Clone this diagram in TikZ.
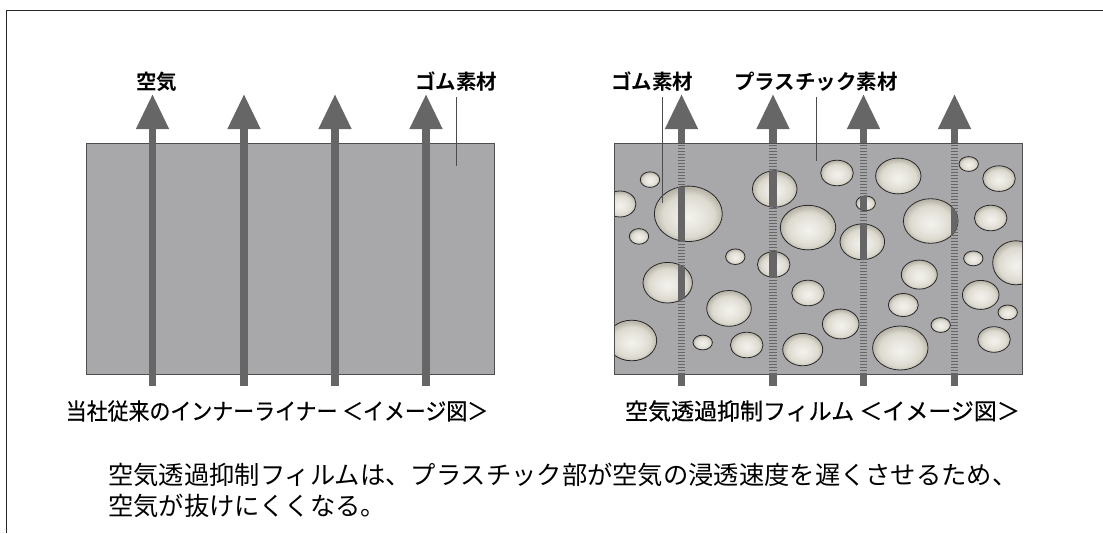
\documentclass[tikz,border=0pt]{standalone}
\usepackage{fontspec}
\setmainfont{Noto Sans CJK JP}[BoldFont={Noto Sans CJK JP Bold}]
\newfontfamily\capfont{Noto Sans CJK JP}[FakeBold=0.5]
\newfontfamily\capfontnarrow{Noto Sans CJK JP}[FakeBold=0.5, FakeStretch=0.91]
\usetikzlibrary{arrows.meta}

\definecolor{panelgrey}{RGB}{168,168,170}
\definecolor{edgegrey}{RGB}{78,78,78}
\definecolor{airgrey}{RGB}{102,102,102}
\definecolor{bubhi}{RGB}{243,242,237}
\definecolor{bubmid}{RGB}{220,217,207}
\definecolor{bubout}{RGB}{186,182,170}
\definecolor{bubline}{RGB}{40,40,40}

% soft bubble shading, highlight slightly below the centre
\pgfdeclareradialshading{bubble}{\pgfpoint{0bp}{-3bp}}{%
  color(0bp)=(bubhi); color(10bp)=(bubhi!55!bubmid); color(19bp)=(bubmid);
  color(25bp)=(bubout); color(50bp)=(bubout)}

% rubber particles dispersed in the plastic film: cx/cy/rx/ry
\def\bubbles{650/179.6/9.7/7.8, 620/204/16/13, 688.3/213.8/34/27.7,
  639/236.4/9.7/7.8, 667.7/282.7/24.7/20.3, 631.7/340.5/25/20.3,
  702.7/342.5/9.7/7.4, 729/308.4/22.3/17.9, 735.3/256.7/9.7/7.8,
  746.7/345/16.3/12.8, 774.7/189/22.3/18.2, 773.7/264.5/16.3/12.8,
  808/227.6/27.7/22.3, 837/173/16.3/12.8, 808/293/16.3/12.8,
  802.7/349.6/20/16.2, 840.7/324/18.3/14.9, 862.3/241.8/22.3/17.9,
  865.7/203.3/9.7/7.4, 898.3/176/22.7/17.9, 919.3/274.6/18/14.5,
  903.3/305/15/11.5, 900.3/348/27.7/22, 930.7/221/27.3/22.3,
  940.7/325/9.7/7.4, 968.7/164/9.7/7.4, 999/178.6/16.3/12.8,
  990.7/218/16.3/12.8, 973.3/258.4/9.7/7.4, 1016/262.8/23.3/22,
  980.7/294.9/18.3/14.5, 1007.7/312.4/9.7/7.4, 994/339.5/16.3/12.8}

\tikzset{
  frameline/.style={draw=black!85, line width=1.2pt},
  panel/.style={fill=panelgrey, draw=edgegrey, line width=0.9pt},
  airarrow/.style={draw=airgrey, line width=7.5pt,
    -{Triangle[length=35pt,width=31pt]}},
  airshaft/.style={draw=airgrey, line width=7.5pt},
  airstripes/.style={draw=airgrey, line width=7.5pt, dash pattern=on 1.5pt off 1.5pt},
  particle/.style={shading=bubble, draw=bubline, line width=0.8pt},
  lab/.style={font=\bfseries\fontsize{20.5}{24}\selectfont, inner sep=0pt},
  caption/.style={font=\capfont\fontsize{23}{27}\selectfont, inner sep=0pt},
  captionnarrow/.style={font=\capfontnarrow\fontsize{23}{27}\selectfont, inner sep=0pt},
  body/.style={font=\fontsize{25.3}{30}\selectfont, inner sep=0pt, anchor=west},
  leader/.style={draw=black!70, line width=0.7pt, shorten <=5pt},
}

\begin{document}
\begin{tikzpicture}[x=1pt, y=-1pt]
\useasboundingbox (0,0) rectangle (1103,533);

% outer frame (left and top edges)
\coordinate (fbl) at (6.5,533);
\coordinate (ftl) at (6.5,10.5);
\coordinate (ftr) at (1103,10.5);
\draw[frameline] (fbl) -- (ftl) -- (ftr);

% ---------- conventional inner liner ----------
\path[panel] (86,143) rectangle (494,374);
\foreach \i/\x in {1/152.5, 2/244, 3/335, 4/426} {
  \coordinate (la\i s) at (\x,386);
  \coordinate (la\i e) at (\x,94);
  \draw[airarrow] (la\i s) -- (la\i e);
}
\node[lab] (lair) at (156.5,82) {空気};
\node[lab] (lrubl) at (456,82) {ゴム素材};
\coordinate (rublend) at (456,166);
\draw[leader] (lrubl.south -| rublend) -- (rublend);
\node[captionnarrow] (capl) at (277,411) {当社従来のインナーライナー ＜イメージ図＞};

% ---------- air permeation suppression film ----------
\path[fill=panelgrey] (614,143) rectangle (1022.5,374);
\begin{scope}
  \clip (614,143) rectangle (1022.5,374);
  \foreach \cx/\cy/\rx/\ry in \bubbles {
    \path[particle] (\cx,\cy) ellipse [x radius=\rx, y radius=\ry];
  }
\end{scope}
\path[draw=edgegrey, line width=0.9pt] (614,143) rectangle (1022.5,374);

\foreach \i/\x in {1/681.5, 2/773, 3/863.5, 4/954.5} {
  \coordinate (ra\i s) at (\x,386);
  \coordinate (ra\i b) at (\x,374);
  \coordinate (ra\i t) at (\x,143);
  \coordinate (ra\i e) at (\x,94);
  \draw[airarrow] (ra\i t) -- (ra\i e);
  \draw[airshaft] (ra\i s) -- (ra\i b);
  \draw[airstripes] (ra\i b) -- (ra\i t);
}
% air passes freely where the path crosses a rubber particle
\begin{scope}
  \clip foreach \cx/\cy/\rx/\ry in \bubbles { (\cx,\cy) ellipse [x radius=\rx, y radius=\ry] };
  \foreach \i in {1,2,3,4} { \draw[airshaft] (ra\i b) -- (ra\i t); }
\end{scope}

\node[lab] (lrubr) at (652,82) {ゴム素材};
\coordinate (rubrend) at (662.5,203);
\draw[leader] (lrubr.south -| rubrend) -- (rubrend);
\node[lab] (lplas) at (816,82) {プラスチック素材};
\coordinate (plasend) at (816.5,161);
\draw[leader] (lplas.south -| plasend) -- (plasend);
\node[caption] (capr) at (822.5,411) {空気透過抑制フィルム ＜イメージ図＞};

% ---------- explanatory note ----------
\node[body] (note1) at (108,475) {空気透過抑制フィルムは、プラスチック部が空気の浸透速度を遅くさせるため、};
\node[body] (note2) at (108,506) {空気が抜けにくくなる。};
\end{tikzpicture}
\end{document}
